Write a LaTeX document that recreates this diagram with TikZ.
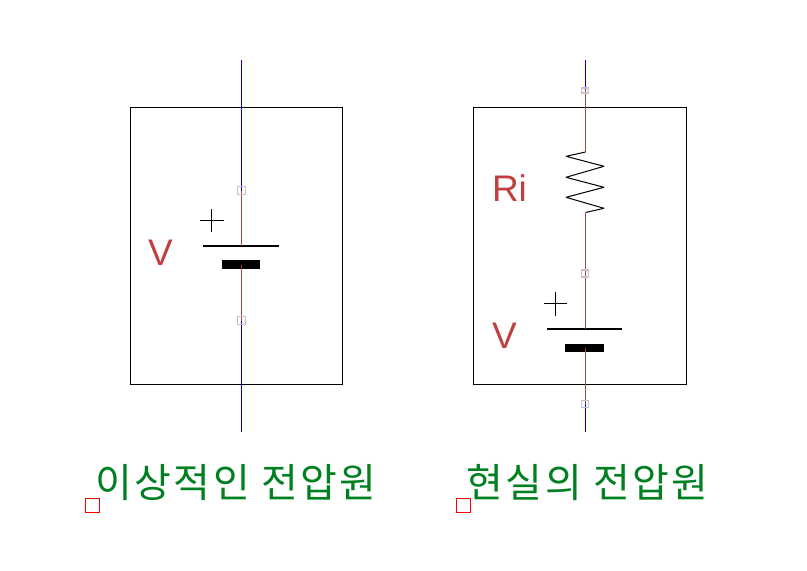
\documentclass[tikz,border=0pt]{standalone}
\usepackage{fontspec}
\setmainfont{Liberation Sans}
\newfontfamily\krfont[LetterSpace=6]{Noto Sans CJK KR}
\definecolor{wireblue}{HTML}{0000E0}
\definecolor{wirebrown}{HTML}{A84444}
\definecolor{lblred}{HTML}{C04040}
\definecolor{lblgreen}{HTML}{008020}
\definecolor{hgray}{HTML}{C4C4C4}
\tikzset{
  pane/.style={draw=black,line width=1pt,fill=none,inner sep=0pt,outer sep=0pt,minimum width=#1},
  grip/.style={draw=hgray,line width=1.2pt,fill=none,inner sep=0pt,outer sep=0pt,minimum width=7.4pt,minimum height=#1},
  blue wire/.style={draw=wireblue,line width=1pt},
  brown wire/.style={draw=wirebrown,line width=1pt},
  plate/.style n args={2}{fill=black,inner sep=0pt,outer sep=0pt,minimum width=#1,minimum height=#2},
  sign/.style={draw=black,line width=1pt},
  zig/.style={draw=black,line width=1pt,line join=bevel},
  val/.style={text=lblred,font=\fontsize{37}{37}\selectfont,inner sep=0pt,outer sep=0pt},
  title/.style={text=lblgreen,font=\krfont\fontsize{40}{40}\selectfont,inner sep=0pt,outer sep=0pt,anchor=center},
  mark box/.style={draw=red,line width=1pt,fill=none,inner sep=0pt,outer sep=0pt,minimum width=14pt,minimum height=14pt}
}
\begin{document}
\begin{tikzpicture}[x=1pt,y=-1pt]
\useasboundingbox (0,0) rectangle (807,571);
% left
\node[pane=212pt,minimum height=277pt] (boxL) at (236.5,246) {};
\coordinate (Ltop) at (241.5,60);
\coordinate (Lbot) at (241.5,431.5);
\node[grip=8pt,minimum width=8pt] (L1) at (241.5,190.5) {};
\node[grip=8pt,minimum width=8pt] (L2) at (241.5,320.5) {};
\node[plate={75.5pt}{2pt}] (Lp) at (241,246) {};
\node[plate={38pt}{9pt}] (Ln) at (241,264.5) {};
\draw[blue wire] (Ltop) -- (L1.center);
\draw[brown wire] (L1.center) -- (L1.center |- Lp.center);
\draw[brown wire] (L2.center |- Ln.center) -- (L2.center);
\draw[blue wire] (L2.center) -- (Lbot);
\node[grip=8pt,minimum width=8pt] at (241.5,190.5) {};
\node[grip=8pt,minimum width=8pt] at (241.5,320.5) {};
\draw[sign] (200,220.5) -- (224,220.5) (211.5,209) -- (211.5,232);
\node[val] (Lv) at (160.5,253) {V};
% right
\node[pane=213pt,minimum height=277pt] (boxR) at (580,246) {};
\coordinate (Rtop) at (585.5,60);
\coordinate (Rbot) at (585.5,431.5);
\node[grip=5pt] (R1) at (585,90.5) {};
\node[grip=7pt] (R2) at (585,273.5) {};
\node[grip=7pt] (R3) at (585,404) {};
\node[plate={75pt}{2pt}] (Rp) at (584.5,329) {};
\node[plate={39pt}{8pt}] (Rn) at (584.5,348) {};
\coordinate (Za) at (585.5,152);
\coordinate (Zb) at (585.5,212.5);
\draw[blue wire] (Rtop) -- (585.5,90);
\draw[brown wire] (585.5,90) -- (Za);
\draw[zig] (Za) -- (566,156.3) -- (604,166.3) -- (566,177.3) -- (604,187.3) -- (566,197.3) -- (604,208.3) -- (Zb);
\draw[brown wire] (Zb) -- (585.5,329);
\draw[brown wire] (585.5,348) -- (585.5,404);
\draw[blue wire] (585.5,404) -- (Rbot);
\node[grip=5pt] at (585,90.5) {};
\node[grip=7pt] at (585,273.5) {};
\node[grip=7pt] at (585,404) {};
\draw[sign] (544,303.5) -- (567,303.5) (555.5,292) -- (555.5,316);
\node[val] (Rv) at (504.5,336) {V};
\node[val] (Ri) at (509.5,188) {Ri};
% captions
\node[title] (tL) at (236,483) {이상적인 전압원};
\node[title] (tR) at (587.5,483) {현실의 전압원};
\node[mark box] (mL) at (92.5,505.5) {};
\node[mark box] (mR) at (463.5,505.5) {};
\end{tikzpicture}
\end{document}
